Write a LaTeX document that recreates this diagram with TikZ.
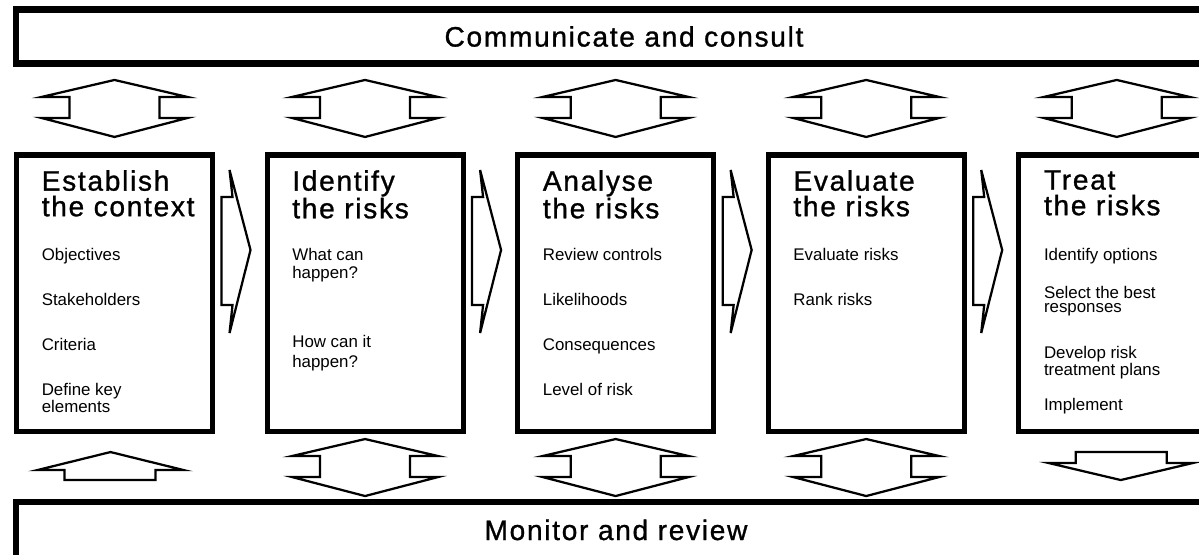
\documentclass[tikz,border=0pt]{standalone}
\usepackage{fontspec}
\setmainfont{Liberation Sans}
\newfontfamily\widefont[LetterSpace=6, FakeBold=1]{Liberation Sans}
\usetikzlibrary{calc}
\usetikzlibrary{positioning}
% vertical double block arrow: #1 anchor, #2 offset of its top tip
\newcommand\twoway[2]{%
  \draw[blockarrow, shift={(#1)}] (-45,#2+17) -- (-73,#2+17) -- (0,#2) -- (73,#2+17) -- (45,#2+17)
    -- (45,#2+38) -- (73,#2+38) -- (0,#2+57) -- (-73,#2+38) -- (-45,#2+38) -- cycle;%
}
% block arrow to the next stage: #1 box
\newcommand\onward[1]{%
  \draw[blockarrow, shift={(#1.east)}] (9,-96) -- (20,-96) -- (17,-123) -- (38,-43) -- (17,40)
    -- (20,12) -- (9,12) -- cycle;%
}

\begin{document}
\begin{tikzpicture}[x=0.025cm, y=-0.025cm,
  stage/.style={draw, line width=3.6pt, minimum width=4.9cm, minimum height=6.9cm, inner sep=0, outer sep=0},
  band/.style={draw, line width=4.3pt, minimum width=30.4cm, minimum height=1.35cm, inner sep=0, outer sep=0, font=\widefont\fontsize{20}{24}\selectfont},
  bandtext/.style={inner sep=0, font=\widefont\fontsize{20}{24}\selectfont},
  head/.style={anchor=north west, inner sep=0, align=left, font=\widefont\fontsize{20}{18.2}\selectfont},
  items/.style={anchor=north west, inner sep=0, align=left, font=\fontsize{12}{12}\selectfont},
  blockarrow/.style={draw, line width=1.6pt, fill=white}]
\useasboundingbox (0,0) rectangle (1199,554);
\fill[white] (0,0) rectangle (1199,554);
\clip (0,0) rectangle (1199,554);

\node[band] (comm) at (624,36.5) {Communicate and consult};
\node[band, anchor=north west, minimum height=2cm] (mon) at (16,502) {};
\node[bandtext, anchor=base] (montxt) at (616,540) {Monitor and review};

\node[stage] (ctx) at (114.5,293) {};
\node[stage, right=1.3625cm of ctx] (idf) {};
\node[stage, right=1.3625cm of idf] (ana) {};
\node[stage, right=1.3625cm of ana] (eva) {};
\node[stage, right=1.3625cm of eva] (treat) {};

\node[head] (ctx-h) at ([shift={(25,15)}]ctx.north west) {Establish\\the context};
\node[items] (ctx-i) at ([shift={(25,93)}]ctx.north west) {Objectives\\[20pt]Stakeholders\\[20pt]Criteria\\[20pt]Define key\\elements};

\node[head] (idf-h) at ([shift={(25,15)}]idf.north west) {Identify\\the risks};
\node[items] (idf-i) at ([shift={(25,93)}]idf.north west) {What can\\[1pt]happen?\\[37pt]How can it\\[2pt]happen?};

\node[head] (ana-h) at ([shift={(25,15)}]ana.north west) {Analyse\\the risks};
\node[items] (ana-i) at ([shift={(25,93)}]ana.north west) {Review controls\\[20pt]Likelihoods\\[20pt]Consequences\\[20pt]Level of risk};

\node[head] (eva-h) at ([shift={(25,15)}]eva.north west) {Evaluate\\the risks};
\node[items] (eva-i) at ([shift={(25,93)}]eva.north west) {Evaluate risks\\[20pt]Rank risks};

\node[head] (treat-h) at ([shift={(25,15)}]treat.north west) {Treat\\the risks};
\node[items, font=\fontsize{12}{10.5}\selectfont] (treat-i) at ([shift={(25,93)}]treat.north west) {Identify options\\[14.5pt]Select the best\\responses\\[20pt]Develop risk\\treatment plans\\[13pt]Implement};

% arrows from stage to stage
\onward{ctx}
\onward{idf}
\onward{ana}
\onward{eva}

% arrows to communicate and consult
\twoway{ctx.north}{-75}
\twoway{idf.north}{-75}
\twoway{ana.north}{-75}
\twoway{eva.north}{-75}
\twoway{treat.north}{-75}

% arrows to monitor and review
\draw[blockarrow, shift={(ctx.south)}] (-50,49) -- (-50,39) -- (-77,39) -- (-4,21) -- (69,39) -- (41,39) -- (41,49) -- cycle;
\twoway{idf.south}{8}
\twoway{ana.south}{8}
\twoway{eva.south}{8}
\draw[blockarrow, shift={(treat.south)}] (-41,21) -- (50,21) -- (50,32) -- (76,32) -- (4,49) -- (-68,32) -- (-41,32) -- cycle;
\end{tikzpicture}
\end{document}
